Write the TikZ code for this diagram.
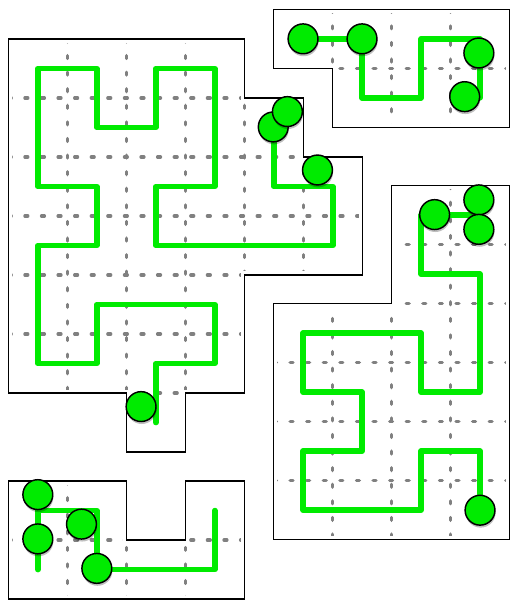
\documentclass[tikz,border=0pt]{standalone}
\usetikzlibrary{shadows}
\definecolor{trailgreen}{RGB}{0,235,0}
\definecolor{gridgray}{RGB}{128,128,128}
\begin{document}
\begin{tikzpicture}[
  x=1cm, y=-1cm,
  region/.style={
    draw=black,
    line width=0.65pt,
    preaction={draw=white, line width=3.4pt}
  },
  gridline/.style={
    draw=gridgray,
    line width=1.6pt,
    line cap=round,
    dash pattern=on 1.4pt off 6.6pt
  },
  trail/.style={
    draw=trailgreen,
    line width=2.7pt,
    line cap=round,
    line join=round
  },
  ball/.style={
    circle,
    draw=black,
    fill=trailgreen,
    line width=0.7pt,
    minimum size=14.4pt,
    inner sep=0pt,
    drop shadow={shadow xshift=0.3pt, shadow yshift=-1.2pt, fill=black, opacity=0.25}
  }
]
\useasboundingbox (0,0) rectangle (8.644,10.169);

\begin{scope}[shift={(0.141,0.661)}]
  \begin{scope}
    \clip (0,0) -- (4,0) -- (4,1) -- (5,1) -- (5,2) -- (6,2) -- (6,4) -- (4,4) -- (4,6) -- (3,6) -- (3,7) -- (2,7) -- (2,6) -- (0,6) -- cycle;
    \foreach \i in {1,...,5} \draw[gridline] (\i,0) -- (\i,7);
    \foreach \j in {1,...,6} \draw[gridline] (0,\j) -- (6,\j);
  \end{scope}
  \draw[region] (0,0) -- (4,0) -- (4,1) -- (5,1) -- (5,2) -- (6,2) -- (6,4) -- (4,4) -- (4,6) -- (3,6) -- (3,7) -- (2,7) -- (2,6) -- (0,6) -- cycle;
  \draw[trail] (2.5,6.5) -- (2.5,5.5) -- (3.5,5.5) -- (3.5,4.5) -- (1.5,4.5) -- (1.5,5.5) -- (0.5,5.5) -- (0.5,3.5) -- (1.5,3.5) -- (1.5,2.5) -- (0.5,2.5) -- (0.5,0.5) -- (1.5,0.5) -- (1.5,1.5) -- (2.5,1.5) -- (2.5,0.5) -- (3.5,0.5) -- (3.5,2.5) -- (2.5,2.5) -- (2.5,3.5) -- (5.5,3.5) -- (5.5,2.5) -- (4.5,2.5) -- (4.5,1.5);
  \node[ball] (bigtail) at (2.25,6.23) {};
  \node[ball] (bigheadA) at (4.49,1.49) {};
  \node[ball] (bigheadB) at (4.73,1.23) {};
  \node[ball] (bigcorner) at (5.24,2.22) {};
\end{scope}

\begin{scope}[shift={(4.636,0.158)}]
  \begin{scope}
    \clip (0,0) -- (4,0) -- (4,2) -- (1,2) -- (1,1) -- (0,1) -- cycle;
    \foreach \i in {1,...,3} \draw[gridline] (\i,0) -- (\i,2);
    \draw[gridline] (0,1) -- (4,1);
  \end{scope}
  \draw[region] (0,0) -- (4,0) -- (4,2) -- (1,2) -- (1,1) -- (0,1) -- cycle;
  \draw[trail] (0.5,0.5) -- (1.5,0.5) -- (1.5,1.5) -- (2.5,1.5) -- (2.5,0.5) -- (3.5,0.5) -- (3.5,1.5);
  \node[ball] (topA) at (0.5,0.5) {};
  \node[ball] (topB) at (1.5,0.5) {};
  \node[ball] (topC) at (3.48,0.74) {};
  \node[ball] (topD) at (3.24,1.48) {};
\end{scope}

\begin{scope}[shift={(4.636,3.147)}]
  \begin{scope}
    \clip (2,0) -- (4,0) -- (4,6) -- (0,6) -- (0,2) -- (2,2) -- cycle;
    \foreach \i in {1,...,3} \draw[gridline] (\i,0) -- (\i,6);
    \foreach \j in {1,...,5} \draw[gridline] (0,\j) -- (4,\j);
  \end{scope}
  \draw[region] (2,0) -- (4,0) -- (4,6) -- (0,6) -- (0,2) -- (2,2) -- cycle;
  \draw[trail] (3.5,0.5) -- (2.5,0.5) -- (2.5,1.5) -- (3.5,1.5) -- (3.5,3.5) -- (2.5,3.5) -- (2.5,2.5) -- (0.5,2.5) -- (0.5,3.5) -- (1.5,3.5) -- (1.5,4.5) -- (0.5,4.5) -- (0.5,5.5) -- (2.5,5.5) -- (2.5,4.5) -- (3.5,4.5) -- (3.5,5.5);
  \node[ball] (rightA) at (2.73,0.49) {};
  \node[ball] (rightB) at (3.48,0.24) {};
  \node[ball] (rightC) at (3.48,0.74) {};
  \node[ball] (rightD) at (3.5,5.5) {};
\end{scope}

\begin{scope}[shift={(0.141,8.153)}]
  \begin{scope}
    \clip (0,0) -- (2,0) -- (2,1) -- (3,1) -- (3,0) -- (4,0) -- (4,2) -- (0,2) -- cycle;
    \foreach \i in {1,...,3} \draw[gridline] (\i,0) -- (\i,2);
    \draw[gridline] (0,1) -- (4,1);
  \end{scope}
  \draw[region] (0,0) -- (2,0) -- (2,1) -- (3,1) -- (3,0) -- (4,0) -- (4,2) -- (0,2) -- cycle;
  \draw[trail] (0.5,1.5) -- (0.5,0.5) -- (1.5,0.5) -- (1.5,1.5) -- (3.5,1.5) -- (3.5,0.5);
  \node[ball] (lowA) at (0.5,0.23) {};
  \node[ball] (lowB) at (0.5,0.98) {};
  \node[ball] (lowC) at (1.24,0.73) {};
  \node[ball] (lowD) at (1.5,1.48) {};
\end{scope}
\end{tikzpicture}
\end{document}
